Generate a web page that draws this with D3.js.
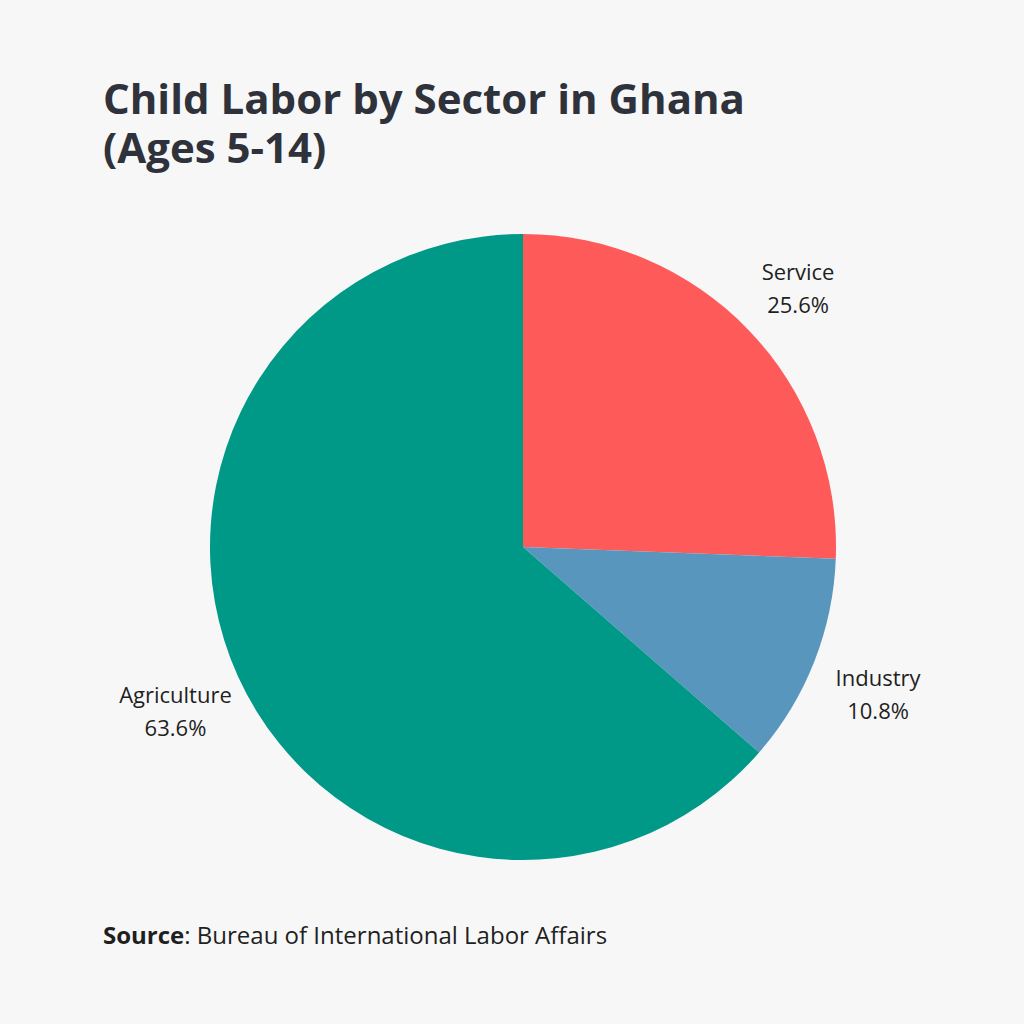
<!DOCTYPE html>
<html lang="en">
  <head>
    <meta charset="utf-8" />
    <title>Child Labor by Sector in Ghana</title>
    <script src="https://cdn.jsdelivr.net/npm/d3@7"></script>
    <style>
      html, body { margin: 0; padding: 0; background: #f7f7f7; }
    </style>
  </head>
  <body>
    <svg id="pie-chart" width="1024" height="1024" viewBox="0 0 1024 1024"></svg>
    <script>
      // data
      const sectors = ["Service", "Industry", "Agriculture"];
      const shares = [25.6, 10.8, 63.6];
      const sectorColors = ["#ff5a5a", "#5896bd", "#009988"];

      const color = d3.scaleOrdinal().domain(sectors).range(sectorColors);
      const pctformat = (v) => v.toFixed(1) + "%";

      const svg = d3.select("#pie-chart")
        .attr("font-family", "'Open Sans', 'Noto Sans', sans-serif");

      svg.append("rect")
        .attr("width", 1024)
        .attr("height", 1024)
        .attr("fill", "#f7f7f7");

      // title, two lines
      const title = svg.append("text")
        .attr("x", 103)
        .attr("y", 114)
        .attr("fill", "#2f323a")
        .attr("font-size", "42px")
        .attr("font-weight", "700");
      title.append("tspan").attr("x", 103).text("Child Labor by Sector in Ghana");
      title.append("tspan").attr("x", 103).attr("dy", 49).text("(Ages 5-14)");

      const cx = 523, cy = 547, radius = 313;

      const data = sectors.map((s, i) => ({ sector: s, value: shares[i] }));

      const pie = d3.pie()
        .value((d) => d.value)
        .sort(null);

      const arc = d3.arc().innerRadius(0).outerRadius(radius);
      const labelArc = d3.arc().innerRadius(radius * 1.22).outerRadius(radius * 1.22);

      const g = svg.append("g")
        .attr("transform", `translate(${cx}, ${cy})`);

      g.selectAll(".slice")
        .data(pie(data))
        .enter()
        .append("path")
        .attr("class", "slice")
        .attr("d", arc)
        .attr("fill", (d) => color(d.data.sector));

      const labels = g.selectAll(".slice-label")
        .data(pie(data))
        .enter()
        .append("text")
        .attr("class", "slice-label")
        .attr("transform", (d) => `translate(${labelArc.centroid(d)})`)
        .attr("text-anchor", "middle")
        .attr("fill", "#1f1f1f")
        .attr("font-size", "22px");

      labels.append("tspan")
        .attr("x", 0)
        .attr("y", -2)
        .text((d) => d.data.sector);
      labels.append("tspan")
        .attr("x", 0)
        .attr("y", 31)
        .text((d) => pctformat(d.data.value));

      // source line
      const source = svg.append("text")
        .attr("x", 103)
        .attr("y", 944)
        .attr("fill", "#1f1f1f")
        .attr("font-size", "24px");
      source.append("tspan").attr("font-weight", "700").text("Source");
      source.append("tspan").text(": Bureau of International Labor Affairs");
    </script>
  </body>
</html>
